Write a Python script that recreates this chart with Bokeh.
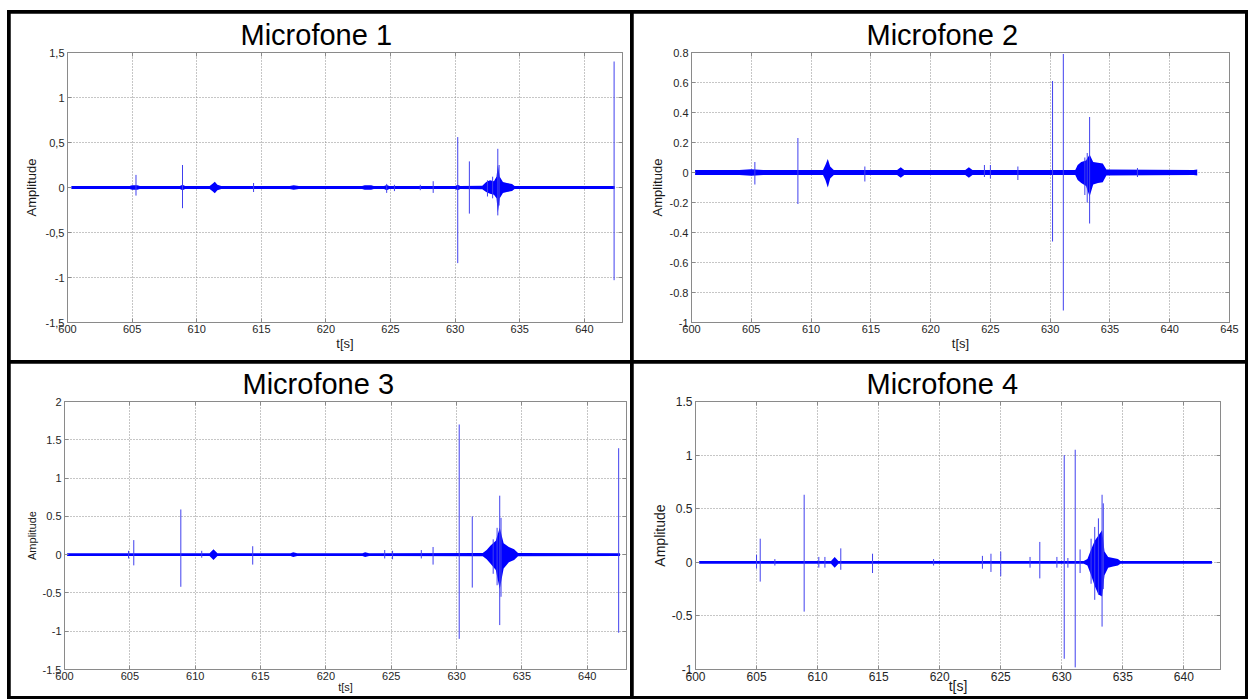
from bokeh.plotting import figure
from bokeh.layouts import row, column
from bokeh.models import Range1d, FixedTicker, LinearAxis
from bokeh.embed import file_html
from bokeh.resources import INLINE

# ---------------- data ----------------
titles = ["Microfone 1", "Microfone 2", "Microfone 3", "Microfone 4"]
x_label = "t[s]"
y_label = "Amplitude"

x_ticks_a = [600, 605, 610, 615, 620, 625, 630, 635, 640]
x_ticks_b = [600, 605, 610, 615, 620, 625, 630, 635, 640, 645]

y_ticks_1 = [-1.5, -1, -0.5, 0, 0.5, 1, 1.5]
y_labels_1 = ["-1,5", "-1", "-0,5", "0", "0,5", "1", "1,5"]
y_ticks_2 = [-1, -0.8, -0.6, -0.4, -0.2, 0, 0.2, 0.4, 0.6, 0.8]
y_labels_2 = ["-1", "-0.8", "-0.6", "-0.4", "-0.2", "0", "0.2", "0.4", "0.6", "0.8"]
y_ticks_3 = [-1.5, -1, -0.5, 0, 0.5, 1, 1.5, 2]
y_labels_3 = ["-1.5", "-1", "-0.5", "0", "0.5", "1", "1.5", "2"]
y_ticks_4 = [-1, -0.5, 0, 0.5, 1, 1.5]
y_labels_4 = ["-1", "-0.5", "0", "0.5", "1", "1.5"]

x_end = [642.95, 645.0, 643.0, 643.0]

# Microfone 1 : dense signal envelope
mic1_env_t = [600.3, 604.8, 605.0, 605.4, 605.6, 608.7, 608.9, 609.1, 611.0, 611.2,
              611.4, 611.6, 611.9, 617.2, 617.5, 617.9, 622.8, 623.0, 623.5, 623.7,
              624.5, 624.7, 624.9, 630.0, 630.2, 630.4, 632.1, 632.4, 632.7, 633.0,
              633.2, 633.3, 633.45, 633.7, 634.0, 634.4, 634.6, 642.35]
mic1_env_hi = [0.016, 0.016, 0.024, 0.024, 0.016, 0.016, 0.03, 0.016, 0.016, 0.04,
               0.065, 0.03, 0.016, 0.016, 0.024, 0.016, 0.016, 0.024, 0.024, 0.016,
               0.016, 0.028, 0.016, 0.016, 0.03, 0.016, 0.02, 0.06, 0.08, 0.07,
               0.12, 0.25, 0.12, 0.06, 0.05, 0.04, 0.016, 0.016]
mic1_env_lo = [-0.016, -0.016, -0.024, -0.024, -0.016, -0.016, -0.03, -0.016, -0.016, -0.04,
               -0.065, -0.03, -0.016, -0.016, -0.024, -0.016, -0.016, -0.024, -0.024, -0.016,
               -0.016, -0.03, -0.016, -0.016, -0.03, -0.016, -0.02, -0.05, -0.07, -0.08,
               -0.12, -0.28, -0.12, -0.06, -0.05, -0.04, -0.016, -0.016]
# Microfone 1 : isolated spikes
mic1_sp_t = [605.3, 608.9, 614.4, 624.7, 625.3, 627.3, 628.3, 630.2, 631.1, 632.5,
             632.9, 633.3, 633.4, 642.3]
mic1_sp_hi = [0.14, 0.25, 0.05, 0.04, 0.03, 0.03, 0.07, 0.56, 0.29, 0.08, 0.12, 0.43, 0.25, 1.40]
mic1_sp_lo = [-0.09, -0.23, -0.05, -0.06, -0.04, -0.03, -0.06, -0.84, -0.29, -0.10, -0.12, -0.31, -0.20, -1.03]

# Microfone 2
mic2_env_t = [600.3, 604.0, 605.0, 606.0, 611.0, 611.2, 611.4, 611.6, 611.9, 617.2,
              617.5, 617.8, 622.9, 623.2, 623.5, 632.1, 632.3, 632.6, 633.0, 633.3,
              633.6, 634.0, 634.4, 634.7, 642.0, 642.3]
mic2_env_hi = [0.017, 0.017, 0.022, 0.017, 0.017, 0.05, 0.09, 0.04, 0.017, 0.017,
               0.035, 0.017, 0.017, 0.035, 0.017, 0.017, 0.05, 0.07, 0.08, 0.12,
               0.07, 0.065, 0.06, 0.02, 0.017, 0.02]
mic2_env_lo = [-0.017, -0.017, -0.022, -0.017, -0.017, -0.05, -0.10, -0.04, -0.017, -0.017,
               -0.035, -0.017, -0.017, -0.035, -0.017, -0.017, -0.05, -0.07, -0.09, -0.16,
               -0.08, -0.07, -0.065, -0.02, -0.017, -0.02]
mic2_sp_t = [605.3, 608.9, 614.5, 624.5, 625.0, 627.3, 630.2, 631.1, 632.9, 633.1,
             633.3, 637.3]
mic2_sp_hi = [0.07, 0.23, 0.04, 0.05, 0.05, 0.04, 0.61, 0.79, 0.10, 0.13, 0.37, 0.03]
mic2_sp_lo = [-0.08, -0.21, -0.06, -0.03, -0.04, -0.05, -0.46, -0.92, -0.15, -0.20, -0.34, -0.03]

# Microfone 3
mic3_env_t = [600.2, 611.1, 611.4, 611.7, 617.3, 617.5, 617.8, 622.8, 623.0, 623.3,
              632.0, 632.3, 632.6, 633.0, 633.3, 633.6, 634.0, 634.4, 634.7, 642.5]
mic3_env_hi = [0.017, 0.017, 0.07, 0.017, 0.017, 0.03, 0.017, 0.017, 0.03, 0.017,
               0.02, 0.06, 0.12, 0.18, 0.35, 0.15, 0.10, 0.07, 0.02, 0.017]
mic3_env_lo = [-0.017, -0.017, -0.07, -0.017, -0.017, -0.03, -0.017, -0.017, -0.03, -0.017,
               -0.02, -0.06, -0.12, -0.20, -0.45, -0.18, -0.10, -0.07, -0.02, -0.017]
mic3_sp_t = [604.9, 605.3, 608.9, 610.5, 614.4, 624.5, 625.1, 627.3, 628.2, 630.2,
             631.2, 632.8, 633.1, 633.3, 633.4, 642.4]
mic3_sp_hi = [0.05, 0.19, 0.59, 0.05, 0.11, 0.06, 0.05, 0.06, 0.10, 1.70, 0.50, 0.20, 0.35, 0.77, 0.48, 1.39]
mic3_sp_lo = [-0.05, -0.14, -0.42, -0.04, -0.13, -0.05, -0.06, -0.05, -0.13, -1.10, -0.43, -0.25, -0.40, -0.92, -0.55, -1.02]

# Microfone 4
mic4_env_t = [600.3, 611.1, 611.4, 611.7, 631.8, 632.1, 632.4, 632.7, 633.0, 633.3,
              633.5, 633.8, 634.2, 634.6, 634.8, 642.3]
mic4_env_hi = [0.013, 0.013, 0.05, 0.013, 0.013, 0.03, 0.12, 0.20, 0.25, 0.30,
               0.10, 0.05, 0.04, 0.03, 0.013, 0.013]
mic4_env_lo = [-0.013, -0.013, -0.05, -0.013, -0.013, -0.03, -0.12, -0.22, -0.30, -0.32,
               -0.12, -0.05, -0.04, -0.03, -0.013, -0.013]
mic4_sp_t = [605.0, 605.3, 606.5, 608.9, 610.1, 610.6, 611.9, 614.5, 619.5, 623.5,
             624.2, 625.0, 627.4, 628.2, 629.6, 630.2, 630.5, 631.1, 631.5, 632.4,
             632.7, 633.0, 633.3, 633.4]
mic4_sp_hi = [0.07, 0.22, 0.03, 0.63, 0.05, 0.05, 0.13, 0.08, 0.03, 0.06,
              0.08, 0.10, 0.05, 0.19, 0.05, 1.00, 0.04, 1.05, 0.12, 0.22,
              0.33, 0.41, 0.63, 0.55]
mic4_sp_lo = [-0.06, -0.18, -0.03, -0.46, -0.05, -0.05, -0.07, -0.10, -0.03, -0.06,
              -0.09, -0.13, -0.05, -0.15, -0.05, -0.90, -0.05, -0.98, -0.10, -0.20,
              -0.35, -0.30, -0.60, -0.25]

# ---------------- styling ----------------
FONT = "Liberation Sans"
BLUE = "#0000ff"
SPIKE = "#4040ee"
GRID = "#8c8c8c"
FRAME = "#8a8a8a"


def box_axis(ticks):
    # unlabeled axis that only draws MATLAB-like inward ticks on the box side
    ax = LinearAxis(ticker=FixedTicker(ticks=ticks))
    ax.major_label_overrides = {t: "" for t in ticks}
    ax.major_label_text_font_size = "0px"
    ax.major_label_standoff = 0
    ax.major_tick_in = 4
    ax.major_tick_out = 0
    ax.minor_tick_line_color = None
    ax.axis_line_color = FRAME
    ax.major_tick_line_color = FRAME
    return ax


def make_panel(title, env_t, env_hi, env_lo, sp_t, sp_hi, sp_lo, x_ticks, xmax,
               y_ticks, y_labels, width, height, borders, tick_fs, label_fs,
               title_dx, ylab_standoff, xlab_standoff):
    p = figure(width=width, height=height, output_backend="svg", toolbar_location=None,
               x_range=Range1d(600, xmax), y_range=Range1d(y_ticks[0], y_ticks[-1]),
               min_border_left=borders[0], min_border_right=borders[1],
               min_border_top=borders[2], min_border_bottom=borders[3],
               background_fill_color="white", border_fill_color="white")

    p.outline_line_color = FRAME
    p.outline_line_width = 1

    p.xaxis.ticker = FixedTicker(ticks=x_ticks)
    p.xaxis.major_label_overrides = {t: str(t) for t in x_ticks}
    p.yaxis.ticker = FixedTicker(ticks=y_ticks)
    p.yaxis.major_label_overrides = dict(zip(y_ticks, y_labels))
    p.xaxis.axis_label = x_label
    p.yaxis.axis_label = y_label
    for ax in (p.xaxis[0], p.yaxis[0]):
        ax.major_label_text_font = FONT
        ax.major_label_text_font_size = tick_fs
        ax.major_label_text_color = "#262626"
        ax.axis_label_text_font = FONT
        ax.axis_label_text_font_size = label_fs
        ax.axis_label_text_font_style = "normal"
        ax.axis_label_text_color = "#1a1a1a"
        ax.axis_line_color = FRAME
        ax.major_tick_line_color = FRAME
        ax.major_tick_in = 4
        ax.major_tick_out = 0
        ax.minor_tick_line_color = None
    p.xaxis.major_label_standoff = 2
    p.yaxis.major_label_standoff = 3
    p.xaxis.axis_label_standoff = xlab_standoff
    p.yaxis.axis_label_standoff = ylab_standoff

    p.add_layout(box_axis(x_ticks), "above")
    p.add_layout(box_axis(y_ticks), "right")

    p.title.text = title
    p.title.text_font = FONT
    p.title.text_font_size = "29px"
    p.title.text_font_style = "normal"
    p.title.text_color = "black"
    p.title.align = "left"
    p.title.vertical_align = "top"
    p.title.offset = title_dx
    p.title.standoff = 0

    p.grid.grid_line_color = GRID
    p.grid.grid_line_dash = "1 2"
    p.grid.grid_line_width = 1

    p.varea(x=env_t, y1=env_lo, y2=env_hi, fill_color=BLUE)
    p.segment(x0=sp_t, y0=sp_lo, x1=sp_t, y1=sp_hi, line_color=SPIKE, line_width=1)
    return p


p1 = make_panel(titles[0], mic1_env_t, mic1_env_hi, mic1_env_lo, mic1_sp_t, mic1_sp_hi, mic1_sp_lo,
                x_ticks_a, x_end[0], y_ticks_1, y_labels_1, 620, 347, (57, 8, 39, 38),
                "11px", "13px", 173, 4, 0)
p2 = make_panel(titles[1], mic2_env_t, mic2_env_hi, mic2_env_lo, mic2_sp_t, mic2_sp_hi, mic2_sp_lo,
                x_ticks_b, x_end[1], y_ticks_2, y_labels_2, 612, 347, (58, 16, 39, 38),
                "11px", "13px", 175, 2, 0)
p3 = make_panel(titles[2], mic3_env_t, mic3_env_hi, mic3_env_lo, mic3_sp_t, mic3_sp_hi, mic3_sp_lo,
                x_ticks_a, x_end[2], y_ticks_3, y_labels_3, 620, 333, (54, 4, 38, 26),
                "11px", "11px", 178, 2, -2)
p4 = make_panel(titles[3], mic4_env_t, mic4_env_hi, mic4_env_lo, mic4_sp_t, mic4_sp_hi, mic4_sp_lo,
                x_ticks_a, x_end[3], y_ticks_4, y_labels_4, 612, 333, (62, 25, 38, 26),
                "12px", "14px", 171, 1, -6)

r1 = row(p1, p2, spacing=3)
r2 = row(p3, p4, spacing=3)
layout = column(r1, r2, spacing=3, margin=(10, 0, 0, 7),
                styles={"background-color": "black", "padding": "3px"})

open("out.html", "w").write(file_html(layout, INLINE))
